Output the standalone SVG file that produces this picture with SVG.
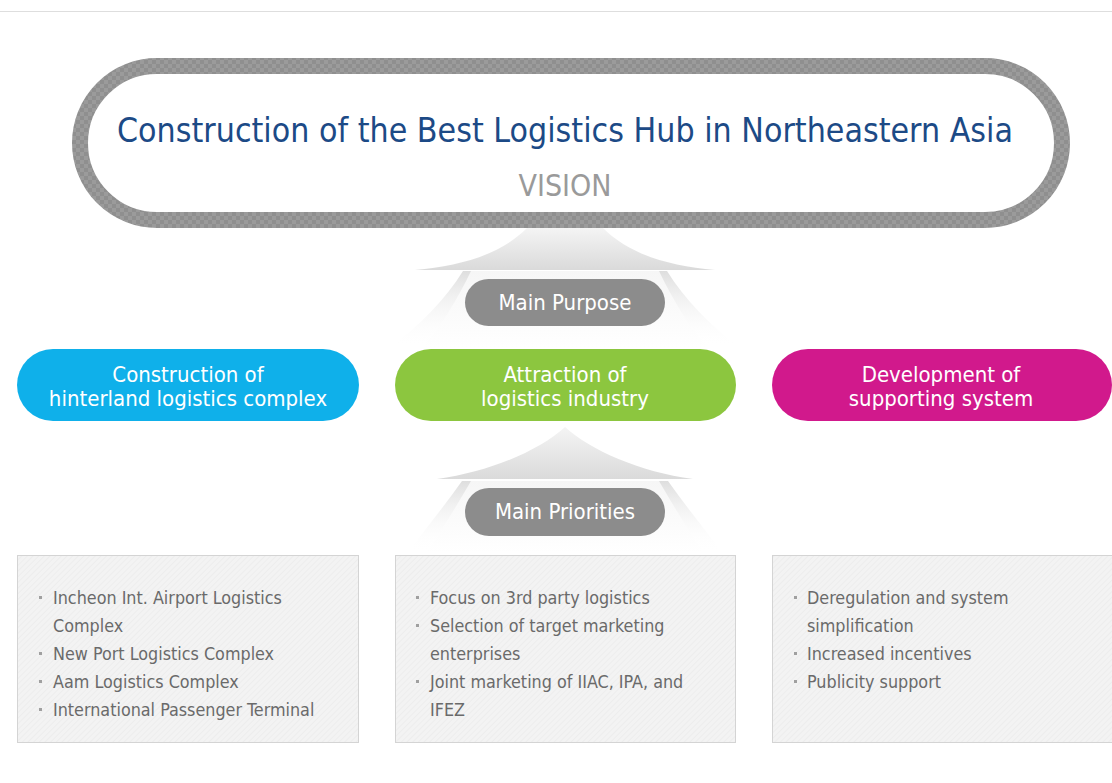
<svg xmlns="http://www.w3.org/2000/svg" width="1112" height="783" viewBox="0 0 1112 783">
<defs>
<pattern id="checker" width="8" height="8" patternUnits="userSpaceOnUse">
<rect width="8" height="8" fill="#8f8f8f"/>
<rect width="4" height="4" fill="#9b9b9b"/>
<rect x="4" y="4" width="4" height="4" fill="#9b9b9b"/>
</pattern>
<pattern id="hatch" width="4" height="4" patternUnits="userSpaceOnUse" patternTransform="rotate(45)">
<rect width="4" height="4" fill="#f3f3f3"/>
<line x1="0" y1="0" x2="0" y2="4" stroke="#e7e7e7" stroke-width="1"/>
</pattern>
<linearGradient id="head" x1="0" y1="0" x2="0" y2="1">
<stop offset="0" stop-color="#f4f4f4"/>
<stop offset="1" stop-color="#dadada"/>
</linearGradient>
<linearGradient id="shaft" x1="0" y1="0" x2="0" y2="1">
<stop offset="0" stop-color="#dedede"/>
<stop offset="1" stop-color="#ffffff" stop-opacity="0"/>
</linearGradient>
<linearGradient id="shaftInner" x1="0" y1="0" x2="0" y2="1">
<stop offset="0" stop-color="#f6f6f6"/>
<stop offset="1" stop-color="#ffffff"/>
</linearGradient>
</defs>
<style>
.pill{font-family:"DejaVu Sans Condensed","DejaVu Sans",sans-serif;fill:#ffffff;font-size:22px;text-anchor:middle}
.grey{fill:#8c8c8c}
.item{font-family:"DejaVu Sans Condensed","DejaVu Sans",sans-serif;fill:#6a6a6a;font-size:17.8px}
.bul{fill:#a0a0a0}
.box{fill:url(#hatch);stroke:#d4d4d4;stroke-width:1}
</style>
<rect width="1112" height="783" fill="#ffffff"/>
<line x1="0" y1="11.5" x2="1112" y2="11.5" stroke="#dedede" stroke-width="1"/>

<g id="arrows">
<g id="arrow-top">
<path d="M463,271 C445,300 420,325 390,348 L740,348 C710,325 685,300 667,271 Z" fill="url(#shaft)"/>
<path d="M471,271 C457,300 442,325 422,348 L708,348 C688,325 673,300 659,271 Z" fill="url(#shaftInner)"/>
<path d="M527,228 L603,228 C630,255 670,266 715,270 L415,270 C460,266 500,255 527,228 Z" fill="url(#head)"/>
</g>
<g id="arrow-bottom">
<path d="M462,481 C445,505 425,530 408,552 L722,552 C705,530 685,505 668,481 Z" fill="url(#shaft)"/>
<path d="M471,481 C457,505 442,530 427,552 L703,552 C688,530 673,505 659,481 Z" fill="url(#shaftInner)"/>
<path d="M565,427 C590,450 640,472 693,479 L437,479 C490,472 540,450 565,427 Z" fill="url(#head)"/>
</g>
</g>

<g id="vision">
<rect x="80" y="66" width="982" height="154" rx="77" ry="77" fill="#ffffff" stroke="url(#checker)" stroke-width="16"/>
<text x="565" y="142" text-anchor="middle" font-family="DejaVu Sans Condensed, DejaVu Sans, sans-serif" font-size="34" fill="#1c4a86" textLength="896" lengthAdjust="spacingAndGlyphs">Construction of the Best Logistics Hub in Northeastern Asia</text>
<text x="565" y="196" text-anchor="middle" font-family="DejaVu Sans Condensed, DejaVu Sans, sans-serif" font-size="30" fill="#9a9a9a">VISION</text>
</g>

<g id="main-purpose">
<rect x="465" y="279" width="200" height="47" rx="23.5" class="grey"/>
<text x="565" y="310" class="pill">Main Purpose</text>
</g>

<g id="hinterland">
<rect x="17" y="349" width="342" height="72" rx="36" fill="#0fb0ea"/>
<text x="188" y="382" class="pill">Construction of</text>
<text x="188" y="406" class="pill">hinterland logistics complex</text>
</g>

<g id="attraction">
<rect x="395" y="349" width="341" height="72" rx="36" fill="#8cc63f"/>
<text x="565" y="382" class="pill">Attraction of</text>
<text x="565" y="406" class="pill">logistics industry</text>
</g>

<g id="development">
<rect x="772" y="349" width="340" height="72" rx="36" fill="#d1198c"/>
<text x="941" y="382" class="pill">Development of</text>
<text x="941" y="406" class="pill">supporting system</text>
</g>

<g id="main-priorities">
<rect x="465" y="488" width="200" height="48" rx="24" class="grey"/>
<text x="565" y="519" class="pill">Main Priorities</text>
</g>

<g id="box-hinterland">
<rect x="17.5" y="555.5" width="341" height="187" class="box"/>
<rect x="39" y="596" width="3" height="3" class="bul"/>
<text x="53" y="604" class="item">Incheon Int. Airport Logistics</text>
<text x="53" y="632" class="item">Complex</text>
<rect x="39" y="652" width="3" height="3" class="bul"/>
<text x="53" y="660" class="item">New Port Logistics Complex</text>
<rect x="39" y="680" width="3" height="3" class="bul"/>
<text x="53" y="688" class="item">Aam Logistics Complex</text>
<rect x="39" y="708" width="3" height="3" class="bul"/>
<text x="53" y="716" class="item">International Passenger Terminal</text>
</g>

<g id="box-attraction">
<rect x="395.5" y="555.5" width="340" height="187" class="box"/>
<rect x="416" y="596" width="3" height="3" class="bul"/>
<text x="430" y="604" class="item">Focus on 3rd party logistics</text>
<rect x="416" y="624" width="3" height="3" class="bul"/>
<text x="430" y="632" class="item">Selection of target marketing</text>
<text x="430" y="660" class="item">enterprises</text>
<rect x="416" y="680" width="3" height="3" class="bul"/>
<text x="430" y="688" class="item">Joint marketing of IIAC, IPA, and</text>
<text x="430" y="716" class="item">IFEZ</text>
</g>

<g id="box-development">
<rect x="772.5" y="555.5" width="345" height="187" class="box"/>
<rect x="794" y="596" width="3" height="3" class="bul"/>
<text x="807" y="604" class="item">Deregulation and system</text>
<text x="807" y="632" class="item">simplification</text>
<rect x="794" y="652" width="3" height="3" class="bul"/>
<text x="807" y="660" class="item">Increased incentives</text>
<rect x="794" y="680" width="3" height="3" class="bul"/>
<text x="807" y="688" class="item">Publicity support</text>
</g>
</svg>
